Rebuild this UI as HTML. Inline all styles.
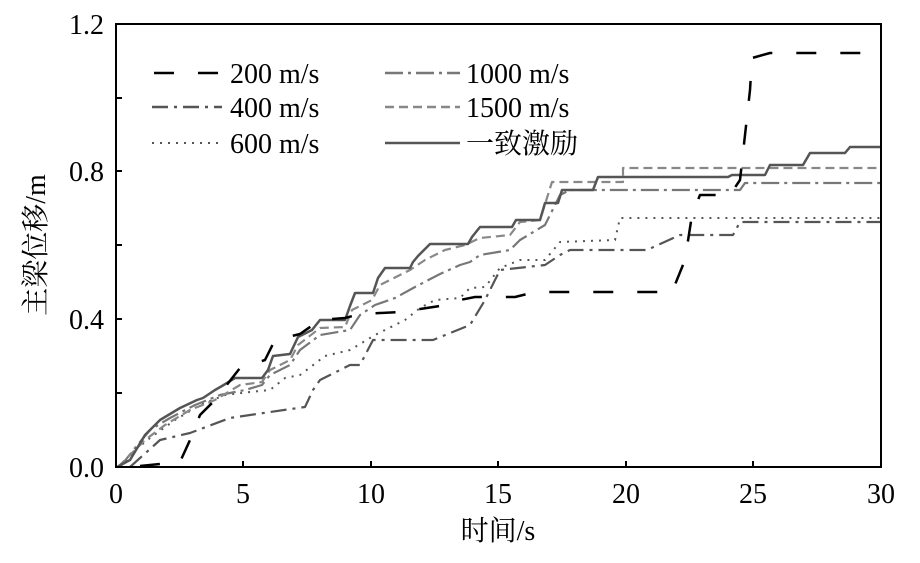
<!DOCTYPE html>
<html><head><meta charset="utf-8"><style>
body{margin:0;background:#fff}
svg{display:block}
</style></head><body>
<svg width="920" height="563" viewBox="0 0 920 563" xmlns="http://www.w3.org/2000/svg" font-family="'Liberation Serif','Noto Serif CJK SC',serif">
<g fill="none" stroke-linejoin="round">
<polyline stroke="#555" stroke-width="2.2" stroke-dasharray="16,6,3,6" points="130,467 160,440 190,433 230,418 270,412 305,407 313,390 320,380 350,365 360,365 373,340 433,340 470,325 485,300 500,270 545,265 560,255 570,250 647,250 680,235 733,235 740,222 881,222"/>
<polyline stroke="#555" stroke-width="2" stroke-dasharray="2,6" points="120,467 135,450 150,438 175,420 200,405 225,395 250,392 270,390 285,378 300,375 325,356 350,350 375,335 405,320 420,308 435,300 460,298 470,288 485,287 500,268 520,260 545,260 560,242 615,240 620,218 881,218"/>
<polyline stroke="#777" stroke-width="2.2" stroke-dasharray="18,5,3,5" points="120,467 135,448 150,430 170,418 195,405 220,395 245,390 262,385 270,375 290,365 300,350 320,335 350,330 360,315 375,305 395,298 415,287 440,274 460,265 470,262 480,255 510,250 520,240 545,225 560,195 570,190 740,190 745,183 881,183"/>
<polyline stroke="#888" stroke-width="2.2" stroke-dasharray="9,5" points="118,467 130,455 145,440 165,425 190,410 215,400 240,385 262,382 270,370 290,360 298,345 320,328 345,327 352,310 372,300 380,285 410,270 425,260 445,250 465,245 480,238 510,235 520,222 540,220 552,182 623,182 623,168 881,168"/>
<polyline stroke="#555" stroke-width="2.5" points="117,467 130,460 145,435 160,420 180,408 197,400 203,398 215,390 222,386 235,378 262,378 268,370 273,356 290,354 298,337 312,330 320,320 345,320 350,306 355,293 373,293 378,278 385,268 410,268 413,262 418,256 430,244 468,244 472,237 480,227 512,227 516,220 540,220 545,203 558,203 562,190 593,190 598,177 728,177 732,175 765,175 770,165 803,165 810,153 845,153 850,147 881,147"/>
<polyline stroke="#000" stroke-width="2.5" stroke-dasharray="20,24" points="140,466 180,462 190,440 200,415 215,400 240,368 265,360 275,340 300,334 320,320 345,318 360,314 400,312 440,306 460,300 475,297 515,297 535,292 672,292 685,260 692,215 700,195 730,195 740,180 750,90 752,58 770,53 881,53"/>
</g>
<rect x="116" y="24" width="765" height="443" fill="none" stroke="#000" stroke-width="2"/>
<g stroke="#000" stroke-width="2">
<line x1="243" y1="467" x2="243" y2="461"/><line x1="371" y1="467" x2="371" y2="461"/><line x1="498" y1="467" x2="498" y2="461"/><line x1="626" y1="467" x2="626" y2="461"/><line x1="753" y1="467" x2="753" y2="461"/>
<line x1="116" y1="393" x2="122" y2="393"/><line x1="116" y1="319" x2="122" y2="319"/><line x1="116" y1="245" x2="122" y2="245"/><line x1="116" y1="171" x2="122" y2="171"/><line x1="116" y1="98" x2="122" y2="98"/>
</g>
<g font-size="28" text-anchor="end">
<text x="104" y="477">0.0</text><text x="104" y="329">0.4</text><text x="104" y="181">0.8</text><text x="104" y="34">1.2</text>
</g>
<g font-size="28" text-anchor="middle">
<text x="116" y="503">0</text><text x="243" y="503">5</text><text x="371" y="503">10</text><text x="498" y="503">15</text><text x="626" y="503">20</text><text x="753" y="503">25</text><text x="881" y="503">30</text>
<text x="498" y="540" font-size="28">时间/s</text>
<text transform="translate(45,245) rotate(-90)" font-size="28">主梁位移/m</text>
</g>
<g fill="none" stroke-width="2.5">
<line x1="152" y1="73" x2="222" y2="73" stroke="#000" stroke-dasharray="20,24" stroke-dashoffset="-2"/>
<line x1="152" y1="107" x2="222" y2="107" stroke="#555" stroke-dasharray="16,6,3,6"/>
<line x1="152" y1="143" x2="222" y2="143" stroke="#555" stroke-width="2" stroke-dasharray="2,6"/>
<line x1="385" y1="73" x2="460" y2="73" stroke="#777" stroke-dasharray="18,5,3,5"/>
<line x1="385" y1="107" x2="460" y2="107" stroke="#888" stroke-dasharray="9,5"/>
<line x1="385" y1="143" x2="460" y2="143" stroke="#555"/>
</g>
<g font-size="28">
<text x="230" y="83">200 m/s</text><text x="230" y="117">400 m/s</text><text x="230" y="153">600 m/s</text>
<text x="466" y="83">1000 m/s</text><text x="466" y="117">1500 m/s</text><text x="466" y="153">一致激励</text>
</g>
</svg>
</body></html>
